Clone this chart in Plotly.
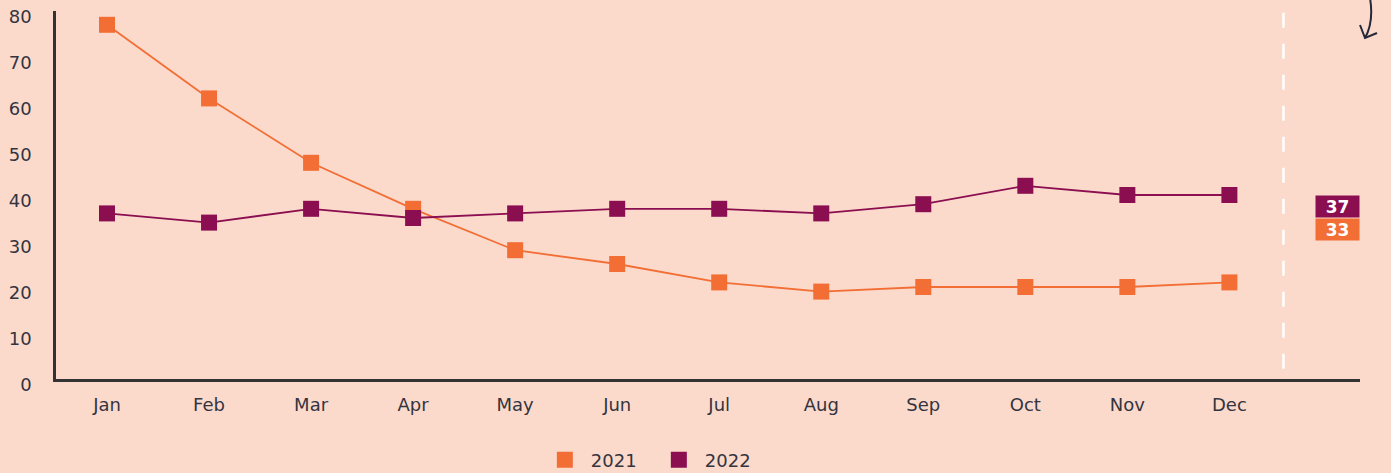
import plotly.graph_objects as go

months = ["Jan", "Feb", "Mar", "Apr", "May", "Jun", "Jul", "Aug", "Sep", "Oct", "Nov", "Dec"]
y2021 = [77, 61, 47, 37, 28, 25, 21, 19, 20, 20, 20, 21]
y2022 = [36, 34, 37, 35, 36, 37, 37, 36, 38, 42, 40, 40]
avg_labels = ["37", "33"]  # yearly averages shown at the right (2022, 2021)
y_ticks = [0, 10, 20, 30, 40, 50, 60, 70, 80]

ORANGE = "#F26E34"
PURPLE = "#8B0E50"
BG = "#FBDACC"
TEXT = "#34343F"
AXIS = "#333333"
FONT = "DejaVu Sans"

xs = list(range(len(months)))

fig = go.Figure()
fig.add_trace(go.Scatter(x=xs, y=y2021, mode="lines+markers", name="2021",
                         line=dict(color=ORANGE, width=1.8),
                         marker=dict(symbol="square", size=16, color=ORANGE),
                         showlegend=False))
fig.add_trace(go.Scatter(x=xs, y=y2022, mode="lines+markers", name="2022",
                         line=dict(color=PURPLE, width=1.8),
                         marker=dict(symbol="square", size=16, color=PURPLE),
                         showlegend=False))
# legend entries (square only)
fig.add_trace(go.Scatter(x=[None], y=[None], mode="markers", name="2021",
                         marker=dict(symbol="square", size=16, color=ORANGE)))
fig.add_trace(go.Scatter(x=[None], y=[None], mode="markers", name="2022",
                         marker=dict(symbol="square", size=16, color=PURPLE)))

# dashed separator
fig.add_shape(type="line", xref="x", yref="y", x0=11.53, x1=11.53, y0=79.6, y1=1.3,
              line=dict(color="white", width=2.5, dash="15px,16px"), layer="below")

# average labels
fig.add_annotation(x=12.06, y=37.6, xref="x", yref="y", text="<b>" + avg_labels[0] + "</b>",
                   showarrow=False, bgcolor=PURPLE, font=dict(color="white", size=17, family=FONT),
                   width=43, height=21, borderpad=0, xanchor="center", yanchor="middle")
fig.add_annotation(x=12.06, y=32.4, xref="x", yref="y", text="<b>" + avg_labels[1] + "</b>",
                   showarrow=False, bgcolor=ORANGE, font=dict(color="white", size=17, family=FONT),
                   width=43, height=21, borderpad=0, xanchor="center", yanchor="middle")

# hand-drawn arrow (top right) in paper coords
def px(xp):
    return (xp - 56) / 1304
def py(yp):
    return (379 - yp) / 368
path = "M {},{} Q {},{} {},{}".format(px(1370), py(-2), px(1374), py(22), px(1365), py(38))
fig.add_shape(type="path", xref="paper", yref="paper", path=path,
              line=dict(color="#252838", width=2))
head = "M {},{} L {},{} L {},{}".format(px(1360), py(25), px(1365), py(38), px(1377), py(33))
fig.add_shape(type="path", xref="paper", yref="paper", path=head,
              line=dict(color="#252838", width=2))

fig.update_layout(
    width=1391, height=473,
    margin=dict(l=56, r=31, t=11, b=94, autoexpand=False),
    paper_bgcolor=BG, plot_bgcolor=BG,
    font=dict(family=FONT, size=18, color=TEXT),
    legend=dict(orientation="h", x=0.4577, xanchor="center", y=-0.22, yanchor="middle",
                entrywidth=57, entrywidthmode="pixels", itemwidth=42,
                font=dict(size=18, color=TEXT), bgcolor="rgba(0,0,0,0)"),
    xaxis=dict(range=[-0.5, 12.28], tickmode="array", tickvals=xs, ticktext=months,
               showgrid=False, zeroline=False, showline=True, linecolor=AXIS, linewidth=2.5,
               ticks="", ticklabelstandoff=8, tickfont=dict(size=18, color=TEXT)),
    yaxis=dict(range=[0, 80], tickmode="array", tickvals=y_ticks,
               showgrid=False, zeroline=False, showline=True, linecolor=AXIS, linewidth=2.5,
               ticks="", ticklabelstandoff=18, ticklabelshift=6, tickfont=dict(size=18, color=TEXT)),
)

fig.write_html("out.html")
